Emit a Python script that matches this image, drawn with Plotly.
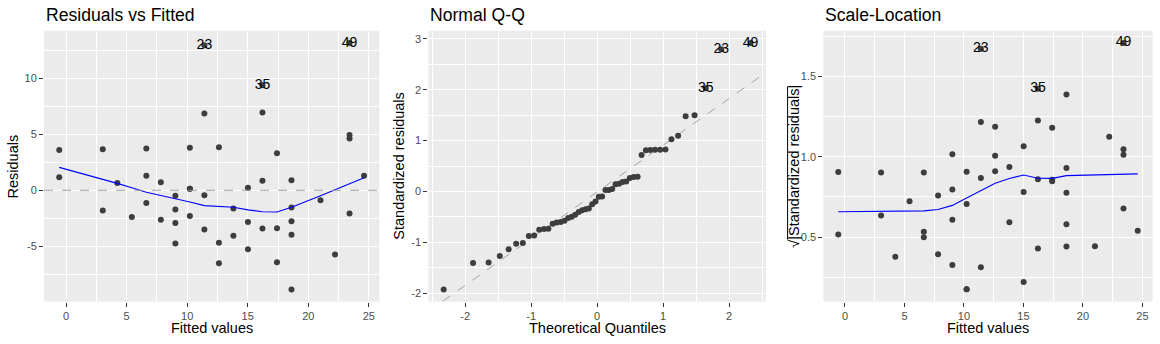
import plotly.graph_objects as go
import numpy as np

# ---------------- data (lm diagnostics, 50 observations) ----------------
obs_id = list(range(1, 51))
fitted = [-0.564, -0.564, 3.032, 3.032, 4.231, 5.429, 6.628, 6.628, 6.628, 7.826, 7.826,
          9.025, 9.025, 9.025, 9.025, 10.224, 10.224, 10.224, 10.224,
          11.422, 11.422, 11.422, 11.422, 12.621, 12.621, 12.621, 13.819, 13.819,
          15.018, 15.018, 15.018, 16.217, 16.217, 16.217, 16.217,
          17.415, 17.415, 17.415, 18.614, 18.614, 18.614, 18.614, 18.614,
          21.011, 22.210, 23.408, 23.408, 23.408, 23.408, 24.607]
residuals = [1.173, 3.612, -1.813, 3.674, 0.646, -2.381, -1.141, 1.297, 3.735, -2.645,
             0.708, -4.758, -2.929, -1.710, -0.491, -2.299, 0.140, 0.140, 3.797, -3.497,
             -0.449, 6.866, 12.962, -6.525, -4.696, 3.838, -4.066, -1.627, -5.264, -2.826,
             0.222, -3.415, 0.852, 6.948, 9.387, -6.442, -3.394, 3.311, -8.860, -3.983,
             -2.764, -1.545, 0.893, -0.894, -5.750, -2.072, 4.633, 4.938, 13.168, 1.301]
std_resid = [0.266, 0.819, -0.401, 0.813, 0.142, -0.521, -0.249, 0.283, 0.814, -0.574,
             0.154, -1.030, -0.634, -0.370, -0.106, -0.496, 0.030, 0.030, 0.820, -0.754,
             -0.097, 1.481, 2.795, -1.406, -1.012, 0.827, -0.876, -0.351, -1.136, -0.610,
             0.048, -0.738, 0.184, 1.501, 2.028, -1.395, -0.735, 0.717, -1.925, -0.865,
             -0.600, -0.336, 0.194, -0.196, -1.267, -0.459, 1.027, 1.095, 2.919, 0.291]
sqrt_abs_std = [0.516, 0.905, 0.634, 0.902, 0.377, 0.722, 0.499, 0.532, 0.902, 0.758,
                0.392, 1.015, 0.796, 0.608, 0.326, 0.705, 0.174, 0.174, 0.906, 0.868,
                0.311, 1.217, 1.672, 1.186, 1.006, 0.909, 0.936, 0.592, 1.066, 0.781,
                0.219, 0.859, 0.429, 1.225, 1.424, 1.181, 0.857, 0.847, 1.387, 0.930,
                0.775, 0.579, 0.441, 0.443, 1.125, 0.678, 1.013, 1.046, 1.709, 0.539]
theoretical_q = [-2.326, -1.881, -1.645, -1.476, -1.341, -1.227, -1.126, -1.036, -0.954, -0.878,
                 -0.806, -0.739, -0.674, -0.613, -0.553, -0.496, -0.440, -0.385, -0.332, -0.279,
                 -0.228, -0.176, -0.126, -0.075, -0.025, 0.025, 0.075, 0.126, 0.176, 0.228,
                 0.279, 0.332, 0.385, 0.440, 0.496, 0.553, 0.613, 0.674, 0.739, 0.806,
                 0.878, 0.954, 1.036, 1.126, 1.227, 1.341, 1.476, 1.645, 1.881, 2.326]
label_ids = [23, 35, 49]

# smoother curves (read at each distinct fitted value)
smooth_x = [-0.564, 3.032, 4.231, 5.429, 6.628, 7.826, 9.025, 10.224, 11.422, 12.621,
            13.819, 15.018, 16.217, 17.415, 18.614, 21.011, 22.210, 23.408, 24.607]
resid_smooth = [2.05, 1.00, 0.62, 0.22, -0.18, -0.47, -0.73, -1.05, -1.37, -1.43,
                -1.52, -1.75, -1.92, -1.94, -1.52, -0.48, 0.05, 0.58, 1.12]
scale_smooth = [0.657, 0.658, 0.659, 0.660, 0.663, 0.671, 0.697, 0.743, 0.790, 0.835,
                0.864, 0.886, 0.866, 0.865, 0.882, 0.886, 0.888, 0.890, 0.893]
qq_slope = 0.918
qq_intercept = -0.009

# tick labels
x_fit_ticks = [0, 5, 10, 15, 20, 25]
x_fit_text = ["0", "5", "10", "15", "20", "25"]
y_res_ticks = [-5, 0, 5, 10]
y_res_text = ["-5", "0", "5", "10"]
x_qq_ticks = [-2, -1, 0, 1, 2]
x_qq_text = ["-2", "-1", "0", "1", "2"]
y_qq_ticks = [-2, -1, 0, 1, 2, 3]
y_qq_text = ["-2", "-1", "0", "1", "2", "3"]
y_sl_ticks = [0.5, 1.0, 1.5]
y_sl_text = ["0.5", "1.0", "1.5"]

titles = ["Residuals vs Fitted", "Normal Q-Q", "Scale-Location"]

# ---------------- styling ----------------
W, H = 1160, 344
FONT = "Liberation Sans, Arial, Helvetica, sans-serif"
PT_COL = "#3d3d3d"
REF_COL = "#9a9a9a"

x_ranges = [[-1.822, 25.865], [-2.559, 2.559], [-1.822, 25.865]]
y_ranges = [[-9.961, 14.269], [-2.167, 3.161], [0.097, 1.785]]
x_px = [(44, 379.3), (428.3, 766), (823.3, 1152.7)]
y_px = (30.7, 301.7)

fig = go.Figure()

def px_x(p):
    return p / W

def px_y(p):
    return (H - p) / H

ids = np.array(obs_id)
lab_mask = np.isin(ids, label_ids)

# Panel 1
fig.add_trace(go.Scatter(x=fitted, y=residuals, mode="markers", xaxis="x", yaxis="y",
                         marker=dict(size=6, color=PT_COL), showlegend=False, hoverinfo="skip"))
fig.add_trace(go.Scatter(x=smooth_x, y=resid_smooth, mode="lines", xaxis="x", yaxis="y",
                         line=dict(color="#0000FF", width=1.1), showlegend=False, hoverinfo="skip"))
fig.add_trace(go.Scatter(x=np.array(fitted)[lab_mask], y=np.array(residuals)[lab_mask],
                         text=[str(i) for i in ids[lab_mask]], mode="text",
                         textposition="middle center", xaxis="x", yaxis="y",
                         textfont=dict(size=14, color="black", family=FONT),
                         showlegend=False, hoverinfo="skip"))

# Panel 2 (Q-Q)
order = np.argsort(np.array(std_resid), kind="stable")
sorted_std = np.array(std_resid)[order]
sorted_ids = ids[order]
qq_x = np.array(x_ranges[1])
fig.add_trace(go.Scatter(x=qq_x, y=qq_intercept + qq_slope * qq_x, mode="lines",
                         xaxis="x2", yaxis="y2", line=dict(color=REF_COL, width=0.9, dash="dash"),
                         showlegend=False, hoverinfo="skip"))
fig.add_trace(go.Scatter(x=theoretical_q, y=sorted_std, mode="markers", xaxis="x2", yaxis="y2",
                         marker=dict(size=6, color=PT_COL), showlegend=False, hoverinfo="skip"))
qmask = np.isin(sorted_ids, label_ids)
fig.add_trace(go.Scatter(x=np.array(theoretical_q)[qmask], y=sorted_std[qmask],
                         text=[str(i) for i in sorted_ids[qmask]], mode="text",
                         textposition="middle center", xaxis="x2", yaxis="y2",
                         textfont=dict(size=14, color="black", family=FONT),
                         showlegend=False, hoverinfo="skip"))

# Panel 3 (Scale-Location)
fig.add_trace(go.Scatter(x=fitted, y=sqrt_abs_std, mode="markers", xaxis="x3", yaxis="y3",
                         marker=dict(size=6, color=PT_COL), showlegend=False, hoverinfo="skip"))
fig.add_trace(go.Scatter(x=smooth_x, y=scale_smooth, mode="lines", xaxis="x3", yaxis="y3",
                         line=dict(color="#0000FF", width=1.1), showlegend=False, hoverinfo="skip"))
fig.add_trace(go.Scatter(x=np.array(fitted)[lab_mask], y=np.array(sqrt_abs_std)[lab_mask],
                         text=[str(i) for i in ids[lab_mask]], mode="text",
                         textposition="middle center", xaxis="x3", yaxis="y3",
                         textfont=dict(size=14, color="black", family=FONT),
                         showlegend=False, hoverinfo="skip"))

def minor_vals(rng, step, major_step):
    vals = []
    v = np.floor(rng[0] / step) * step
    while v <= rng[1] + 1e-9:
        if v >= rng[0] and abs(v / major_step - round(v / major_step)) > 1e-6:
            vals.append(round(v, 6))
        v += step
    return vals

def axis(dom, rng, tv, tt, minor_step, major_step, anchor):
    return dict(domain=dom, range=rng, tickmode="array", tickvals=tv, ticktext=tt,
                showgrid=True, gridcolor="white", gridwidth=1.2, zeroline=False,
                ticks="outside", ticklen=4, tickwidth=1, tickcolor="#333333",
                tickfont=dict(size=11, color="#4D4D4D", family=FONT),
                showline=False, anchor=anchor, fixedrange=True,
                minor=dict(tickmode="array", tickvals=minor_vals(rng, minor_step, major_step),
                           showgrid=True, gridcolor="white", gridwidth=0.6, ticks=""))

ydom = [px_y(y_px[1]), px_y(y_px[0])]
xdoms = [[px_x(a), px_x(b)] for a, b in x_px]

layout = dict(
    width=W, height=H, margin=dict(l=0, r=0, t=0, b=0),
    paper_bgcolor="white", plot_bgcolor="#EBEBEB",
    font=dict(family=FONT),
    xaxis=axis(xdoms[0], x_ranges[0], x_fit_ticks, x_fit_text, 2.5, 5, "y"),
    yaxis=axis(ydom, y_ranges[0], y_res_ticks, y_res_text, 2.5, 5, "x"),
    xaxis2=axis(xdoms[1], x_ranges[1], x_qq_ticks, x_qq_text, 0.5, 1, "y2"),
    yaxis2=axis(ydom, y_ranges[1], y_qq_ticks, y_qq_text, 0.5, 1, "x2"),
    xaxis3=axis(xdoms[2], x_ranges[2], x_fit_ticks, x_fit_text, 2.5, 5, "y3"),
    yaxis3=axis(ydom, y_ranges[2], y_sl_ticks, y_sl_text, 0.25, 0.5, "x3"),
)
fig.update_layout(**layout)

# plot backgrounds for panels 2 and 3 (plot_bgcolor covers each subplot)
shapes = [dict(type="line", xref="x domain", yref="y", x0=0, x1=1, y0=0, y1=0,
               line=dict(color=REF_COL, width=0.9, dash="dash"), layer="above")]
# overline of the square-root sign in panel 3 y title
shapes.append(dict(type="line", xref="paper", yref="paper",
                   x0=px_x(787.6), x1=px_x(787.6), y0=px_y(86.5), y1=px_y(239.5),
                   line=dict(color="black", width=1)))
fig.update_layout(shapes=shapes)

annotations = []
for i, t in enumerate(titles):
    annotations.append(dict(text=t, xref="paper", yref="paper", x=px_x(x_px[i][0]), y=px_y(14.6),
                            xanchor="left", yanchor="middle", showarrow=False,
                            font=dict(size=17.6, color="black", family=FONT)))
x_titles = ["Fitted values", "Theoretical Quantiles", "Fitted values"]
for i, t in enumerate(x_titles):
    annotations.append(dict(text=t, xref="paper", yref="paper",
                            x=px_x((x_px[i][0] + x_px[i][1]) / 2), y=px_y(328.3),
                            xanchor="center", yanchor="middle", showarrow=False,
                            font=dict(size=14.5, color="black", family=FONT)))
y_titles = ["Residuals", "Standardized residuals", "√|Standardized residuals|"]
y_title_x = [13.3, 399.5, 794.5]
ymid = (y_px[0] + y_px[1]) / 2
for t, xx in zip(y_titles, y_title_x):
    annotations.append(dict(text=t, xref="paper", yref="paper", x=px_x(xx), y=px_y(ymid),
                            xanchor="center", yanchor="middle", textangle=-90, showarrow=False,
                            font=dict(size=14.5, color="black", family=FONT)))
fig.update_layout(annotations=annotations)

fig.write_html("out.html")
